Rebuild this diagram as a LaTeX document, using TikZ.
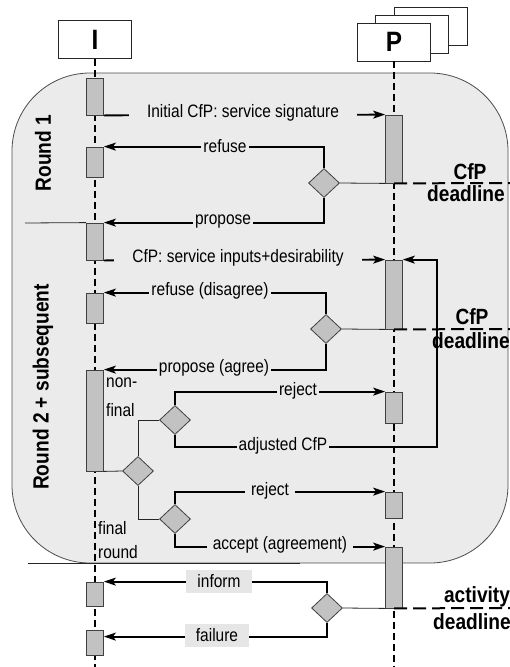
\documentclass[tikz,border=0pt]{standalone}
\usepackage{fontspec}
\setmainfont{Liberation Sans}[FakeStretch=0.86]
\newfontfamily\boldnarrow{Liberation Sans}[FakeStretch=0.87]
\usetikzlibrary{shapes.geometric,arrows.meta}
\definecolor{bggray}{HTML}{EBEBEB}
\definecolor{actgray}{HTML}{C2C2C2}
\definecolor{boxgray}{HTML}{E6E6E6}
\begin{document}
\begin{tikzpicture}[x=1pt,y=-1pt,
  region/.style={draw=black!70, fill=bggray, line width=0.8pt, rounded corners=78pt},
  head/.style={draw=black!85, fill=white, line width=0.8pt, minimum width=73pt, minimum height=38pt, inner sep=0pt, font=\boldnarrow\bfseries\fontsize{28}{30}\selectfont},
  act/.style={draw=black!75, fill=actgray, minimum width=17pt, inner sep=0pt, line width=0.8pt},
  dia/.style={diamond, draw=black!75, fill=actgray, minimum width=31pt, minimum height=29pt, inner sep=0pt, line width=0.8pt},
  msg/.style={line width=1.8pt, -{Stealth[length=12pt,width=8pt,inset=3pt]}},
  thinl/.style={line width=0.8pt, draw=black!85},
  lifeline/.style={line width=1.7pt, dash pattern=on 7pt off 4pt},
  deadl/.style={line width=2pt, dash pattern=on 13pt off 6pt},
  lbl/.style={fill=bggray, inner xsep=2pt, inner ysep=1pt, font=\fontsize{18}{20}\selectfont},
  plain/.style={inner sep=0pt, font=\fontsize{18}{20}\selectfont},
  boxlbl/.style={fill=boxgray, inner xsep=11pt, minimum height=23pt, inner ysep=0pt, font=\fontsize{18}{20}\selectfont},
  bl/.style={inner sep=0pt, font=\boldnarrow\bfseries\fontsize{22}{24}\selectfont}
]
\useasboundingbox (0,0) rectangle (510,667);
% region
\draw[region] (12,73) rectangle (508,563);
\coordinate (sepA) at (25,223);
\coordinate (sepB) at (28,563);
\coordinate (sepBend) at (300,563);
\draw[thinl] (sepB) -- (sepBend);
% heads
\node[head] (pb3) at (431,26.5) {};
\node[head] (pb2) at (412,34) {};
\node[head] (P) at (394,42) {P};
\node[head] (I) at (95,39.5) {I};
\coordinate (Iend) at (95,667);
\coordinate (Pend) at (394,667);
\draw[lifeline] (I.south) -- (Iend);
\draw[lifeline] (P.south) -- (Pend);
% activation boxes
\node[act, minimum height=37pt] (i1) at (95,96.5) {};
\node[act, minimum height=30pt] (i2) at (95,162) {};
\node[act, minimum height=37pt] (i3) at (95,241.5) {};
\node[act, minimum height=30pt] (i4) at (95,308) {};
\node[act, minimum height=101pt] (i5) at (95,420.5) {};
\node[act, minimum height=24pt] (i6) at (95,594) {};
\node[act, minimum height=25pt] (i7) at (95,642.5) {};
\node[act, minimum height=68pt] (p1) at (394,149) {};
\node[act, minimum height=69pt] (p2) at (394,294.5) {};
\node[act, minimum height=31pt] (p3) at (394,407.5) {};
\node[act, minimum height=26pt] (p4) at (394,505) {};
\node[act, minimum height=61pt] (p5) at (394,577.5) {};
% round separator
\draw[thinl] (sepA) -- (i3.north west);
% diamonds
\node[dia] (d1) at (324,183) {};
\node[dia] (d2) at (326,329) {};
\node[dia] (dA) at (138,471) {};
\node[dia] (dB) at (175,420) {};
\node[dia] (dC) at (175,519) {};
\node[dia] (dD) at (327,608) {};
% deadlines
\coordinate (dl1) at (510,183);
\coordinate (dl2) at (510,329);
\coordinate (dl3) at (510,608);
\draw[deadl] (p1.south) -- (dl1);
\draw[deadl] (p2.south) -- (dl2);
\draw[deadl] (p5.south) -- (dl3);
% thin connectors
\draw[thinl] (d1.east) -- (p1.south west);
\draw[thinl] (d2.east) -- (p2.south west);
\draw[thinl] (i5.south east) -- (dA.west);
\draw[thinl] (dA.north) |- (dB.west);
\draw[thinl] (dA.south) |- (dC.west);
\draw[thinl] (dD.east) -- (p5.south west);
% messages
\coordinate (loop) at (437,447);
\draw[msg] (i1.south east) -- (p1.north west);
\draw[msg] (d1.north) |- (i2.north east);
\draw[msg] (d1.south) |- (i3.north east);
\draw[msg] (i3.south east) -- (p2.north west);
\draw[msg] (d2.north) |- (i4.north east);
\draw[msg] (d2.south) |- (i5.north east);
\draw[msg] (dB.north) |- (p3.north west);
\draw[msg] (dB.south) |- (loop) |- (p2.north east);
\draw[msg] (dC.north) |- (p4.north west);
\draw[msg] (dC.south) |- (p5.north west);
\draw[msg] (dD.north) |- (i6.north east);
\draw[msg] (dD.south) |- ([yshift=-7pt]i7.north east);
% labels
\node[lbl, inner xsep=18pt] (t1) at (243,113) {Initial CfP: service signature};
\node[lbl] (t2) at (225,146) {refuse};
\node[lbl] (t3) at (223,222) {propose};
\node[lbl, inner xsep=18pt] (t4) at (238,258) {CfP: service inputs+desirability};
\node[lbl] (t5) at (210,291) {refuse (disagree)};
\node[lbl] (t6) at (214,368) {propose (agree)};
\node[lbl] (t7) at (298,391) {reject};
\node[lbl] (t8) at (283,446) {adjusted CfP};
\node[lbl, inner xsep=6pt] (t9) at (270,491) {reject};
\node[lbl, inner xsep=6pt] (t10) at (280,545) {accept (agreement)};
\node[boxlbl] (t11) at (219,581) {inform};
\node[boxlbl] (t12) at (217,635) {failure};
\node[plain, anchor=west] (nf1) at (106,383) {non-};
\node[plain, anchor=west] (nf2) at (106,410) {final};
\node[plain, anchor=west] (fr1) at (98,528) {final};
\node[plain, anchor=west] (fr2) at (98,552) {round};
% bold labels
\node[bl, rotate=90] (r1) at (43,153) {Round 1};
\node[bl, rotate=90] (r2) at (43,387) {Round 2 + subsequent};
\node[bl] (c1a) at (470,172) {CfP};
\node[bl] (c1b) at (466,194) {deadline};
\node[bl] (c2a) at (472,317) {CfP};
\node[bl] (c2b) at (471,341) {deadline};
\node[bl] (c3a) at (477,597) {activity};
\node[bl] (c3b) at (472,622) {deadline};
\end{tikzpicture}
\end{document}
